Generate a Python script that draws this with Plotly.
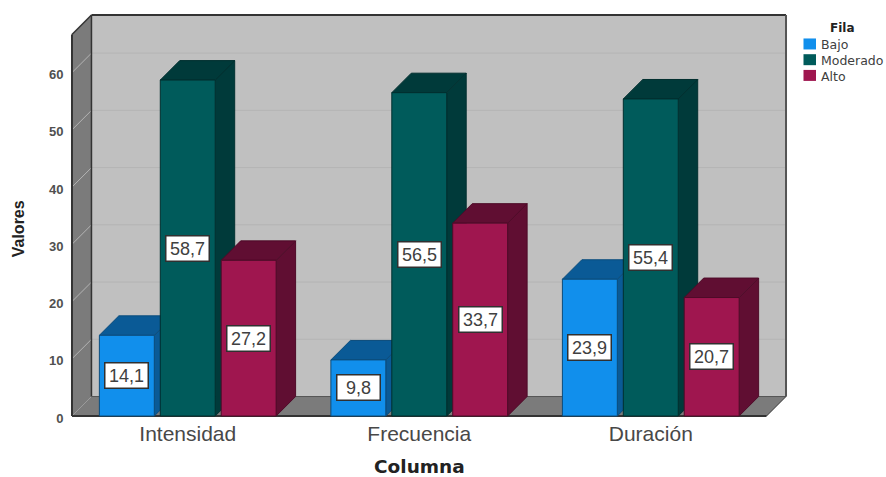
import plotly.graph_objects as go

# Survey results by dimension and level
categories = ["Intensidad", "Frecuencia", "Duración"]
series_names = ["Bajo", "Moderado", "Alto"]
bajo = [14.1, 9.8, 23.9]
moderado = [58.7, 56.5, 55.4]
alto = [27.2, 33.7, 20.7]
y_ticks = [0, 10, 20, 30, 40, 50, 60]

series_values = [bajo, moderado, alto]
front_colors = ["#118FEC", "#005B5B", "#9F164F"]
shade_colors = ["#0A5A96", "#003A3A", "#600E32"]
edge_colors = ["#0B4C7C", "#002F2F", "#4E0B28"]

W, H = 886, 477
LEFT, RIGHT, TOP, BOTTOM = 71.5, 786.0, 15.0, 416.5
PAD = 4.0  # spare room so the box outline is not cut by the plot clip
PX_PER_VALUE = 5.73
PX_PER_CAT = 231.83
DEPTH_PX = 19.5

DX = DEPTH_PX / PX_PER_CAT
DY = DEPTH_PX / PX_PER_VALUE
X0, X1 = -0.5, 2.5
Y_MAX = (BOTTOM - TOP) / PX_PER_VALUE
Y_FRONT_TOP = Y_MAX - DY
BAR_W = 55 / PX_PER_CAT
BAR_STEP = 61 / PX_PER_CAT


def px_x(p):
    return (p - (LEFT - PAD)) / (RIGHT - LEFT + 2 * PAD)


def px_y(p):
    return (BOTTOM + PAD - p) / (BOTTOM - TOP + 2 * PAD)


def polygons(rings):
    xs, ys = [], []
    for ring in rings:
        xs += [p[0] for p in ring] + [ring[0][0], None]
        ys += [p[1] for p in ring] + [ring[0][1], None]
    return xs, ys


fig = go.Figure()

# Each series is painted left to right so nearer bars hide the sides of earlier ones
for s, values in enumerate(series_values):
    front, side, top = [], [], []
    for c, v in enumerate(values):
        a = c + (s - 1) * BAR_STEP - BAR_W / 2
        b = a + BAR_W
        front.append([(a, 0), (b, 0), (b, v), (a, v)])
        side.append([(b, 0), (b + DX, DY), (b + DX, v + DY), (b, v)])
        top.append([(a, v), (b, v), (b + DX, v + DY), (a + DX, v + DY)])
    for rings, color in ((side, shade_colors[s]), (top, shade_colors[s]), (front, front_colors[s])):
        xs, ys = polygons(rings)
        fig.add_trace(go.Scatter(
            x=xs, y=ys, mode="lines", fill="toself", fillcolor=color,
            line=dict(color=edge_colors[s], width=1),
            name=series_names[s], showlegend=False, hoverinfo="skip",
        ))

shapes = []


def poly(points, fill):
    path = "M" + "L".join(f"{x},{y}" for x, y in points) + "Z"
    shapes.append(dict(type="path", path=path, xref="x", yref="y", fillcolor=fill,
                       line=dict(width=0), layer="below"))


def seg(x0, y0, x1, y1, color, width):
    shapes.append(dict(type="line", x0=x0, y0=y0, x1=x1, y1=y1, xref="x", yref="y",
                       line=dict(color=color, width=width), layer="below"))


WALL = "#C0C0C0"
SIDE = "#7B7B7B"
FRAME = "#333333"

# Back wall, left wall and floor of the box
poly([(X0 + DX, DY), (X1 + DX, DY), (X1 + DX, Y_MAX), (X0 + DX, Y_MAX)], WALL)
poly([(X0, 0), (X0 + DX, DY), (X0 + DX, Y_MAX), (X0, Y_FRONT_TOP)], SIDE)
poly([(X0, 0), (X1, 0), (X1 + DX, DY), (X0 + DX, DY)], SIDE)

# Gridlines wrap from the left wall onto the back wall
for t in y_ticks[1:]:
    seg(X0, t, X0 + DX, t + DY, "#B4B4B4", 1)
    seg(X0 + DX, t + DY, X1 + DX, t + DY, "#B4B4B4", 1)

# Box outline
seg(X0, 0, X0, Y_FRONT_TOP, FRAME, 2)
seg(X0, Y_FRONT_TOP, X0 + DX, Y_MAX, FRAME, 1.5)
seg(X0 + DX, Y_MAX, X1 + DX, Y_MAX, FRAME, 2)
seg(X0 + DX, DY, X0 + DX, Y_MAX, FRAME, 1.5)
seg(X1 + DX, DY, X1 + DX, Y_MAX, "#555555", 2)
seg(X0 + DX, DY, X1 + DX, DY, "#555555", 1)
seg(X1, 0, X1 + DX, DY, FRAME, 1)
seg(X0, 0, X1, 0, FRAME, 2)

annotations = []

# Value labels sit at mid-height of each bar
for s, values in enumerate(series_values):
    for c, v in enumerate(values):
        annotations.append(dict(
            x=c + (s - 1) * BAR_STEP, y=v / 2, xref="x", yref="y",
            xanchor="center", yanchor="middle", width=42, height=24,
            text=f"{v:.1f}".replace(".", ","), showarrow=False,
            font=dict(family="Liberation Sans", size=18, color="#404040"),
            bgcolor="#FFFFFF", bordercolor="#303030", borderwidth=1.5, borderpad=0,
        ))

# Axis titles
annotations.append(dict(
    x=px_x(419), y=px_y(467), xref="paper", yref="paper", xanchor="center", yanchor="middle",
    text="<b>Columna</b>", showarrow=False,
    font=dict(family="DejaVu Sans", size=18.5, color="#222222"),
))
annotations.append(dict(
    x=px_x(18), y=px_y(229), xref="paper", yref="paper", xanchor="center", yanchor="middle",
    text="<b>Valores</b>", textangle=-90, showarrow=False,
    font=dict(family="Liberation Sans", size=16, color="#222222"),
))

# Legend block
annotations.append(dict(
    x=px_x(842.5), y=px_y(28), xref="paper", yref="paper", xanchor="center", yanchor="middle",
    text="<b>Fila</b>", showarrow=False,
    font=dict(family="DejaVu Sans", size=12, color="#222222"),
))
for i, name in enumerate(series_names):
    y_mid = 44 + i * 15.75
    shapes.append(dict(type="rect", xref="paper", yref="paper",
                       x0=px_x(803.5), x1=px_x(816), y0=px_y(y_mid - 5.5), y1=px_y(y_mid + 5.5),
                       fillcolor=front_colors[i], line=dict(width=0)))
    annotations.append(dict(
        x=px_x(819), y=px_y(y_mid + 1), xref="paper", yref="paper",
        xanchor="left", yanchor="middle", text=name, showarrow=False,
        font=dict(family="DejaVu Sans", size=12.5, color="#404040"),
    ))

fig.update_layout(
    width=W, height=H,
    margin=dict(l=LEFT - PAD, r=W - RIGHT - PAD, t=TOP - PAD, b=H - BOTTOM - PAD, pad=0),
    paper_bgcolor="#FFFFFF", plot_bgcolor="rgba(0,0,0,0)",
    showlegend=False, shapes=shapes, annotations=annotations,
    xaxis=dict(
        range=[X0 - PAD / PX_PER_CAT, X1 + DX + PAD / PX_PER_CAT],
        tickmode="array", tickvals=[0, 1, 2], ticktext=categories,
        showgrid=False, zeroline=False, showline=False, ticks="", ticklabelstandoff=-1,
        tickfont=dict(family="Liberation Sans", size=21, color="#484848"),
    ),
    yaxis=dict(
        range=[-PAD / PX_PER_VALUE, Y_MAX + PAD / PX_PER_VALUE],
        tickmode="array", tickvals=y_ticks, ticklabelshift=2,
        showgrid=False, zeroline=False, showline=False, ticks="outside", ticklen=1,
        tickcolor="rgba(0,0,0,0)",
        tickfont=dict(family="Liberation Sans", size=13, color="#505050", weight="bold"),
    ),
)

fig.write_html("out.html")
